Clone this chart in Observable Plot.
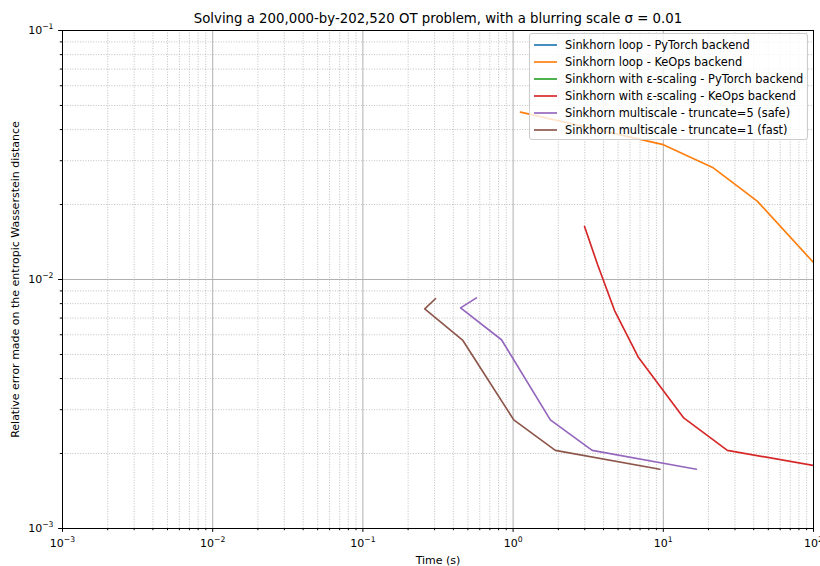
<!DOCTYPE html>
<html><head><meta charset="utf-8">
<script src="https://cdn.jsdelivr.net/npm/d3@7"></script>
<script src="https://cdn.jsdelivr.net/npm/@observablehq/plot@0.6"></script>
<style>
body{margin:0;background:#fff;font-family:"DejaVu Sans",sans-serif;}
#wrap{position:relative;width:820px;height:566px;overflow:hidden;}
#legend{position:absolute;left:529px;top:33px;width:279px;height:107px;background:rgba(255,255,255,0.8);border:1px solid #cccccc;border-radius:3px;box-sizing:border-box;padding:2px 0 0 4px;font-size:11.4px;color:#000;}
.row{height:17px;display:flex;align-items:center;white-space:nowrap;}
.row svg{margin-right:8px;}
</style></head><body><div id="wrap"></div>
<script>
const titleText = "Solving a 200,000-by-202,520 OT problem, with a blurring scale σ = 0.01";
const xLabel = "Time (s)";
const yLabel = "Relative error made on the entropic Wasserstein distance";

const seriesNames = [
  "Sinkhorn loop - PyTorch backend",
  "Sinkhorn loop - KeOps backend",
  "Sinkhorn with ε-scaling - PyTorch backend",
  "Sinkhorn with ε-scaling - KeOps backend",
  "Sinkhorn multiscale - truncate=5 (safe)",
  "Sinkhorn multiscale - truncate=1 (fast)"
];
const palette = ["#1f77b4", "#ff7f0e", "#2ca02c", "#d62728", "#9467bd", "#8c564b"];

// Series values (time in s, relative error)
const loopPyTorchTime = [];
const loopPyTorchErr = [];
const loopKeOpsTime = [1.12, 10.0, 21.3, 42.4, 100];
const loopKeOpsErr = [0.047, 0.0348, 0.0282, 0.0206, 0.0117];
const epsPyTorchTime = [];
const epsPyTorchErr = [];
const epsKeOpsTime = [2.99, 3.65, 4.73, 6.84, 13.6, 26.7, 100];
const epsKeOpsErr = [0.01633, 0.01148, 0.00752, 0.00486, 0.00279, 0.00206, 0.00179];
const ms5Time = [0.570, 0.447, 0.837, 1.77, 3.36, 16.6];
const ms5Err = [0.00844, 0.00769, 0.00573, 0.00273, 0.00206, 0.00173];
const ms1Time = [0.304, 0.258, 0.463, 1.01, 1.91, 9.49];
const ms1Err = [0.00837, 0.00762, 0.00569, 0.00273, 0.00206, 0.00173];

const xTicks = [1e-3, 1e-2, 1e-1, 1, 10, 100];
const yTicks = [1e-3, 1e-2, 1e-1];

const seriesTimes = [loopPyTorchTime, loopKeOpsTime, epsPyTorchTime, epsKeOpsTime, ms5Time, ms1Time];
const seriesErrs = [loopPyTorchErr, loopKeOpsErr, epsPyTorchErr, epsKeOpsErr, ms5Err, ms1Err];
const rows = [];
seriesNames.forEach((s, i) => seriesTimes[i].forEach((t, j) => rows.push({series: s, t, e: seriesErrs[i][j]})));

function minorOf(majors) {
  const out = [];
  for (let i = 0; i < majors.length - 1; i++) for (let k = 2; k <= 9; k++) out.push(majors[i] * k);
  return out;
}
const xMinor = minorOf(xTicks), yMinor = minorOf(yTicks);

// tick label pieces: base "10" and a raised exponent (mathtext-like)
const baseSize = 11, expSize = 7.7;
const expStr = v => String(Math.round(Math.log10(v))).replace("-", "\u2212");
const expW = v => expStr(v).split("").reduce((a, c) => a + (c === "\u2212" ? 0.838 : 0.636) * expSize, 0);
const baseW = 2 * 0.636 * baseSize;

const tickLen = 3.9, minorLen = 2.2;

const marks = [
  Plot.gridX(xMinor, {stroke: "#b0b0b0", strokeOpacity: 1, strokeWidth: 0.8, strokeDasharray: "1,1.6"}),
  Plot.gridY(yMinor, {stroke: "#b0b0b0", strokeOpacity: 1, strokeWidth: 0.8, strokeDasharray: "1,1.6"}),
  Plot.gridX(xTicks, {stroke: "#b0b0b0", strokeOpacity: 1, strokeWidth: 1}),
  Plot.gridY(yTicks, {stroke: "#b0b0b0", strokeOpacity: 1, strokeWidth: 1}),
  Plot.line(rows, {x: "t", y: "e", z: "series", stroke: "series", strokeWidth: 1.67, clip: true}),
  Plot.axisX(xTicks, {text: null, tickSize: tickLen, label: null}),
  Plot.axisX(xMinor, {text: null, tickSize: minorLen, label: null}),
  Plot.axisY(yTicks, {text: null, tickSize: tickLen, label: null}),
  Plot.axisY(yMinor, {text: null, tickSize: minorLen, label: null}),
  Plot.frame({stroke: "#000", strokeWidth: 1}),
  // x tick labels
  ...xTicks.map(v => Plot.text([v], {x: d => d, frameAnchor: "bottom", lineAnchor: "middle", textAnchor: "start",
      dx: -(baseW + expW(v)) / 2, dy: 15, fontSize: baseSize, text: () => "10"})),
  ...xTicks.map(v => Plot.text([v], {x: d => d, frameAnchor: "bottom", lineAnchor: "middle", textAnchor: "start",
      dx: -(baseW + expW(v)) / 2 + baseW, dy: 11, fontSize: expSize, text: d => expStr(d)})),
  // y tick labels
  ...yTicks.map(v => Plot.text([v], {y: d => d, frameAnchor: "left", lineAnchor: "middle", textAnchor: "end",
      dx: -9 - expW(v), dy: 0, fontSize: baseSize, text: () => "10"})),
  ...yTicks.map(v => Plot.text([v], {y: d => d, frameAnchor: "left", lineAnchor: "middle", textAnchor: "end",
      dx: -9, dy: -4, fontSize: expSize, text: d => expStr(d)})),
  Plot.text([titleText], {frameAnchor: "top", lineAnchor: "middle", dy: -12, fontSize: 13.3, text: d => d}),
  Plot.text([xLabel], {frameAnchor: "bottom", lineAnchor: "middle", dy: 32, fontSize: 11, text: d => d}),
  Plot.text([yLabel], {frameAnchor: "left", textAnchor: "middle", lineAnchor: "middle", dx: -47, rotate: -90, fontSize: 11, text: d => d})
];

const chart = Plot.plot({
  width: 820, height: 566,
  marginLeft: 62, marginRight: 7, marginTop: 30, marginBottom: 38,
  style: {fontFamily: "DejaVu Sans", background: "#fff", overflow: "visible", color: "#000"},
  x: {type: "log", domain: [1e-3, 1e2]},
  y: {type: "log", domain: [1e-3, 1e-1]},
  color: {domain: seriesNames, range: palette},
  marks
});
const wrap = document.getElementById("wrap");
wrap.appendChild(chart);

const legend = document.createElement("div");
legend.id = "legend";
seriesNames.forEach((s, i) => {
  const r = document.createElement("div");
  r.className = "row";
  r.innerHTML = `<svg width="23" height="6"><line x1="0" x2="23" y1="3" y2="3" stroke="${palette[i]}" stroke-width="1.67"/></svg>`;
  const lab = document.createElement("span");
  lab.textContent = s;
  r.appendChild(lab);
  legend.appendChild(r);
});
wrap.appendChild(legend);
</script></body></html>
